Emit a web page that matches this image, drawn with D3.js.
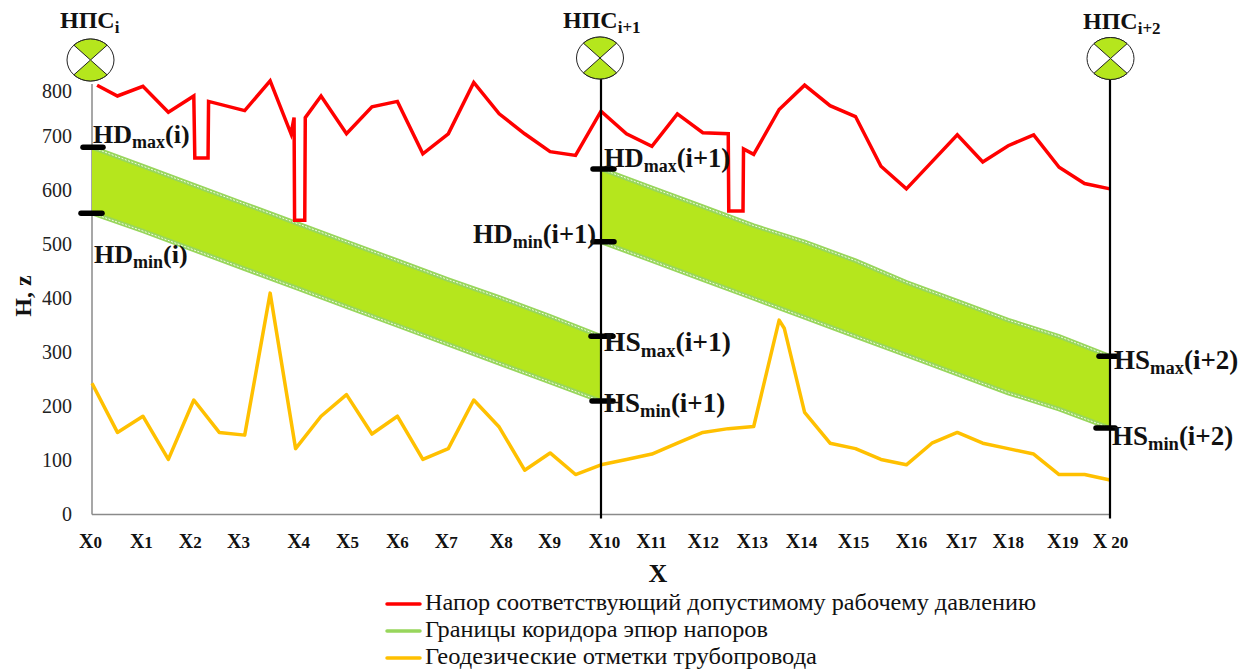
<!DOCTYPE html>
<html><head><meta charset="utf-8">
<script src="https://cdn.jsdelivr.net/npm/d3@7/dist/d3.min.js"></script>
<style>html,body{margin:0;padding:0;background:#fff}svg{display:block}
text{font-family:"Liberation Serif",serif;fill:#111}</style></head>
<body><svg id="c" width="1253" height="670"></svg>
<script>
const redX=[0.1,0.5,1,1.5,2,2.02,2.28,2.29,3,3.5,3.91,3.97,3.98,4.18,4.19,4.5,5,5.5,6,6.5,7,7.5,8,8.5,9,9.5,10,10.5,11,11.5,12,12.5,12.51,12.79,12.8,13,13.5,14,14.5,15,15.5,16,16.5,17,17.5,18,18.5,19,19.5,20];
const redV=[795,775,793,745,775,660,660,765,748,803,705,735,545,545,735,775,705,755,765,668,705,800,742,705,672,665,747,705,682,742,707,705,562,562,677,667,750,795,757,737,645,603,653,703,653,683,703,643,613,603];
const corridorX=[0,1,2,3,4,5,6,7,8,9,10];
const hd1Top=[680,645,610,575,540,505,470,435,402,367,330];
const hd1Low=[558,525,490,455,420,385,350,315,280,245,210];
const hd2X=[10,11,12,13,14,15,16,17,18,19,20];
const hd2Top=[640,605,570,535,505,470,430,395,360,330,293];
const hd2Low=[505,470,435,400,365,330,295,260,225,195,160];
const geoX=[0,0.5,1,1.5,2,2.5,3,3.5,4,4.5,5,5.5,6,6.5,7,7.5,8,8.5,9,9.5,10,10.5,11,11.5,12,12.5,13,13.5,13.6,14,14.5,15,15.5,16,16.5,17,17.5,18,18.5,19,19.5,20];
const geoV=[243,152,182,102,212,152,147,410,122,182,222,149,182,102,122,212,162,82,114,74,92,102,112,132,152,159,163,360,345,189,132,122,102,92,132,152,132,122,112,74,74,64];
const xNames=["0","1","2","3","4","5","6","7","8","9","10","11","12","13","14","15","16","17","18","19"," 20"];
const xLabelAt=[-0.04,0.96,1.92,2.87,4.05,5.01,5.99,6.95,8.03,8.98,10.06,10.98,12,12.96,13.93,14.95,16.09,17.07,17.99,19.06,20];
const yTicks=[0,100,200,300,400,500,600,700,800];
const legendNames=["Напор соответствующий допустимому рабочему давлению","Границы коридора эпюр напоров","Геодезические отметки трубопровода"];
const stations=[["НПС","i",0],["НПС","i+1",10],["НПС","i+2",20]];

const svg=d3.select("#c");
const x=d3.scaleLinear().domain([0,20]).range([92,1110]);
const y=d3.scaleLinear().domain([0,800]).range([514.5,82.5]);
const RED="#ff0000",GREEN="#98d65c",FILL="#b5e61d",ORANGE="#ffc000",GRAY="#8a8a8a";

// axes
const ay=svg.append("g").attr("transform","translate(92,0)")
 .call(d3.axisLeft(y).tickValues(yTicks).tickSize(0).tickPadding(0));
ay.select(".domain").remove();
ay.selectAll("text").attr("x",-20).attr("dy",".28em")
 .style("font-family","'Liberation Serif'").style("font-size","20px").style("fill","#222")
 .attr("transform",d=>d===800?"translate(0,9.5)":null);
svg.append("line").attr("x1",x(0)).attr("x2",x(0)).attr("y1",84).attr("y2",y(0)).attr("stroke",GRAY).attr("stroke-width",1.5);
const ax=svg.append("g").attr("transform",`translate(0,${y(0)})`)
 .call(d3.axisBottom(x).tickValues(xLabelAt).tickSize(0).tickFormat(""));
ax.select(".domain").remove();
svg.append("line").attr("x1",x(0)).attr("x2",x(20)).attr("y1",y(0)).attr("y2",y(0)).attr("stroke",GRAY).attr("stroke-width",1.5);
ax.selectAll(".tick text").each(function(d,i){
 const t=d3.select(this).attr("y",33).attr("dy",0).attr("text-anchor","middle").style("font-family","'Liberation Serif'").style("fill","#111");
 t.append("tspan").text("X").style("font-size","20px").style("font-weight","bold");
 t.append("tspan").text(xNames[i]).style("font-size","17px").style("font-weight","bold").attr("xml:space","preserve");
});

// corridor
const area=d3.area().x(d=>x(d[0])).y0(d=>y(d[1])).y1(d=>y(d[2]));
const line=d3.line().x(d=>x(d[0])).y(d=>y(d[1]));
[[corridorX,hd1Top,hd1Low],[hd2X,hd2Top,hd2Low]].forEach(([X,T,L])=>{
 svg.append("path").attr("d",area(X.map((v,i)=>[v,L[i],T[i]]))).attr("fill",FILL);
 [T,L].forEach(S=>{
  const d=line(X.map((v,i)=>[v,S[i]]));
  svg.append("path").attr("d",d).attr("fill","none").attr("stroke",GREEN).attr("stroke-width",4.5);
  svg.append("path").attr("d",d).attr("fill","none").attr("stroke","#fff").attr("stroke-width",1).attr("stroke-dasharray","2 1.5").attr("opacity",0.85);
 });
});
// series
svg.append("path").attr("d",line(geoX.map((v,i)=>[v,geoV[i]]))).attr("fill","none").attr("stroke",ORANGE).attr("stroke-width",3.5).attr("stroke-linejoin","round");
svg.append("path").attr("d",line(redX.map((v,i)=>[v,redV[i]]))).attr("fill","none").attr("stroke",RED).attr("stroke-width",3.5).attr("stroke-linejoin","miter");

// station verticals
[10,20].forEach(s=>svg.append("line").attr("x1",x(s)).attr("x2",x(s)).attr("y1",78).attr("y2",y(0)+4).attr("stroke","#000").attr("stroke-width",2.2));

// end marks
const marks=[[0,hd1Top[0],-9,11],[0,hd1Low[0],-11,10],[10,hd2Top[0],-8,13],[10,hd2Low[0],-8,13],[10,hd1Top[10],-10,12],[10,hd1Low[10],-9,12],[20,hd2Top[10],-11,7],[20,hd2Low[10],-14,5]];
marks.forEach(m=>svg.append("line").attr("x1",x(m[0])+m[2]).attr("x2",x(m[0])+m[3]).attr("y1",y(m[1])).attr("y2",y(m[1])).attr("stroke","#000").attr("stroke-width",5.5).attr("stroke-linecap","round"));

// rich labels
function rich(px,py,base,sub,tail,size,subSize){
 const t=svg.append("text").attr("x",px).attr("y",py).style("font-size",size+"px").style("font-weight","bold");
 t.append("tspan").text(base);
 t.append("tspan").text(sub).attr("dy",size*0.2).style("font-size",subSize+"px");
 if(tail)t.append("tspan").text(tail).attr("dy",-size*0.2);
}
rich(93,143,"HD","max","(i)",26,18);
rich(94,263,"HD","min","(i)",26,18);
rich(604,167,"HD","max","(i+1)",26.5,18);
rich(473,243,"HD","min","(i+1)",26.5,18);
rich(604,351,"HS","max","(i+1)",27.5,19);
rich(604,412,"HS","min","(i+1)",27,18.5);
rich(1114,369,"HS","max","(i+2)",27,18.5);
rich(1112,445,"HS","min","(i+2)",27,18.5);

// stations
const arc=d3.arc().innerRadius(0).outerRadius(1);
const pos=[[60,28,90.5,60],[563,28,600,58],[1083,29,1110.5,58.5]];
stations.forEach((s,i)=>{
 const p=pos[i];
 rich(p[0],p[1],s[0],s[1],"",24,17);
 const g=svg.append("g").attr("transform",`translate(${p[2]},${p[3]}) scale(23.5,21)`);
 g.append("circle").attr("r",1).attr("fill","#fff").attr("stroke","#222").attr("stroke-width",1).attr("vector-effect","non-scaling-stroke");
 [0,Math.PI].forEach(a=>g.append("path").attr("d",arc({startAngle:a-Math.PI/4,endAngle:a+Math.PI/4})).attr("fill",FILL).attr("stroke","#222").attr("stroke-width",1).attr("vector-effect","non-scaling-stroke"));
});

// axis titles
svg.append("text").attr("transform","translate(31,296) rotate(-90)").attr("text-anchor","middle").style("font-size","24px").style("font-weight","bold").text("H, z");
svg.append("text").attr("x",658).attr("y",582).attr("text-anchor","middle").style("font-size","26px").style("font-weight","bold").text("X");

// legend
const legendColors=[RED,GREEN,ORANGE];
const legendY=[604,631,658];
const legendW=[611,343,392];
legendNames.forEach((n,i)=>{
 svg.append("line").attr("x1",387).attr("x2",420).attr("y1",legendY[i]).attr("y2",legendY[i]).attr("stroke",legendColors[i]).attr("stroke-width",3.5).attr("stroke-linecap","round");
 svg.append("text").attr("x",425).attr("y",legendY[i]+6).style("font-size","24px").attr("textLength",legendW[i]).attr("lengthAdjust","spacingAndGlyphs").text(n);
});
</script></body></html>
